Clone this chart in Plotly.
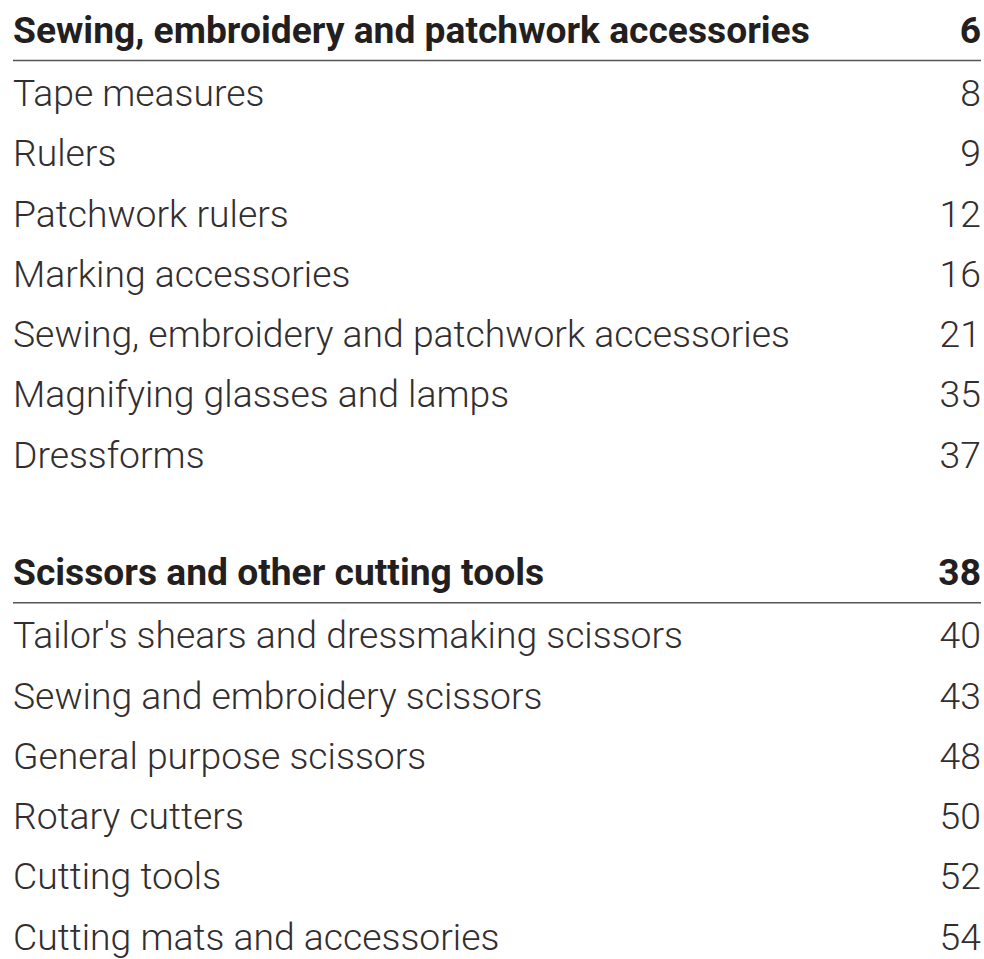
import plotly.graph_objects as go

# ---- data ----
section_titles = ["Sewing, embroidery and patchwork accessories",
                  "Scissors and other cutting tools"]
section_pages = [6, 38]
sec1_items = ["Tape measures", "Rulers", "Patchwork rulers", "Marking accessories",
              "Sewing, embroidery and patchwork accessories",
              "Magnifying glasses and lamps", "Dressforms"]
sec1_pages = [8, 9, 12, 16, 21, 35, 37]
sec2_items = ["Tailor's shears and dressmaking scissors", "Sewing and embroidery scissors",
              "General purpose scissors", "Rotary cutters", "Cutting tools",
              "Cutting mats and accessories"]
sec2_pages = [40, 43, 48, 50, 52, 54]

# ---- layout constants ----
W, H = 984, 959
LEFT, RIGHT = 13, 981
ROW0 = 45.5          # baseline of row 0 (pixels)
STEP = 60.25         # row step
ITEM_SIZE = 37.3
HEAD_SIZE = 37.2
ITEM_DY = 4          # fine vertical offset of item text
HEAD_DY = 1          # fine vertical offset of header text
COLOR = "#231f20"
ITEM_COLOR = "#322e2f"
LINE_COLOR = "#555555"
LIGHT_FONT = '"Roboto Light", Roboto, sans-serif'
BOLD_FONT = 'Roboto, sans-serif'

# rows: header1 = 0, items 1..7, blank 8, header2 = 9, items 10..15
head_rows = [0, 1 + len(sec1_items) + 1]
item_rows = list(range(1, 1 + len(sec1_items))) + \
    list(range(head_rows[1] + 1, head_rows[1] + 1 + len(sec2_items)))
items = sec1_items + sec2_items
pages = sec1_pages + sec2_pages


def baseline(r):
    return ROW0 + STEP * r


def center(r, size, dy):
    return baseline(r) - 0.35 * size + dy


fig = go.Figure()

# item labels
fig.add_trace(go.Scatter(
    x=[LEFT] * len(items), y=[center(r, ITEM_SIZE, ITEM_DY) for r in item_rows],
    text=items, mode="text", textposition="middle right",
    textfont=dict(family=LIGHT_FONT, size=ITEM_SIZE, color=ITEM_COLOR, weight=300),
    hoverinfo="skip", showlegend=False, cliponaxis=False))
# item pages
fig.add_trace(go.Scatter(
    x=[RIGHT] * len(pages), y=[center(r, ITEM_SIZE, ITEM_DY) for r in item_rows],
    text=[str(p) for p in pages], mode="text", textposition="middle left",
    textfont=dict(family=LIGHT_FONT, size=ITEM_SIZE, color=ITEM_COLOR, weight=300),
    hoverinfo="skip", showlegend=False, cliponaxis=False))
# headers
fig.add_trace(go.Scatter(
    x=[LEFT] * len(section_titles), y=[center(r, HEAD_SIZE, HEAD_DY) for r in head_rows],
    text=section_titles, mode="text", textposition="middle right",
    textfont=dict(family=BOLD_FONT, size=HEAD_SIZE, color=COLOR, weight=700),
    hoverinfo="skip", showlegend=False, cliponaxis=False))
fig.add_trace(go.Scatter(
    x=[RIGHT] * len(section_pages), y=[center(r, HEAD_SIZE, HEAD_DY) for r in head_rows],
    text=[str(p) for p in section_pages], mode="text", textposition="middle left",
    textfont=dict(family=BOLD_FONT, size=HEAD_SIZE, color=COLOR, weight=700),
    hoverinfo="skip", showlegend=False, cliponaxis=False))

# underline of each header
for r in head_rows:
    y = baseline(r) + 15
    fig.add_shape(type="line", x0=LEFT, x1=RIGHT, y0=y, y1=y,
                  xref="x", yref="y", line=dict(color=LINE_COLOR, width=1.5))

fig.update_layout(
    width=W, height=H, margin=dict(l=0, r=0, t=0, b=0),
    paper_bgcolor="white", plot_bgcolor="white",
    xaxis=dict(range=[0, W], visible=False, fixedrange=True),
    yaxis=dict(range=[H, 0], visible=False, fixedrange=True),
    showlegend=False)

fig.write_html("out.html", config={"displayModeBar": False},
               post_script="document.body.style.margin='0';"
                           "document.body.style.overflow='hidden';")
